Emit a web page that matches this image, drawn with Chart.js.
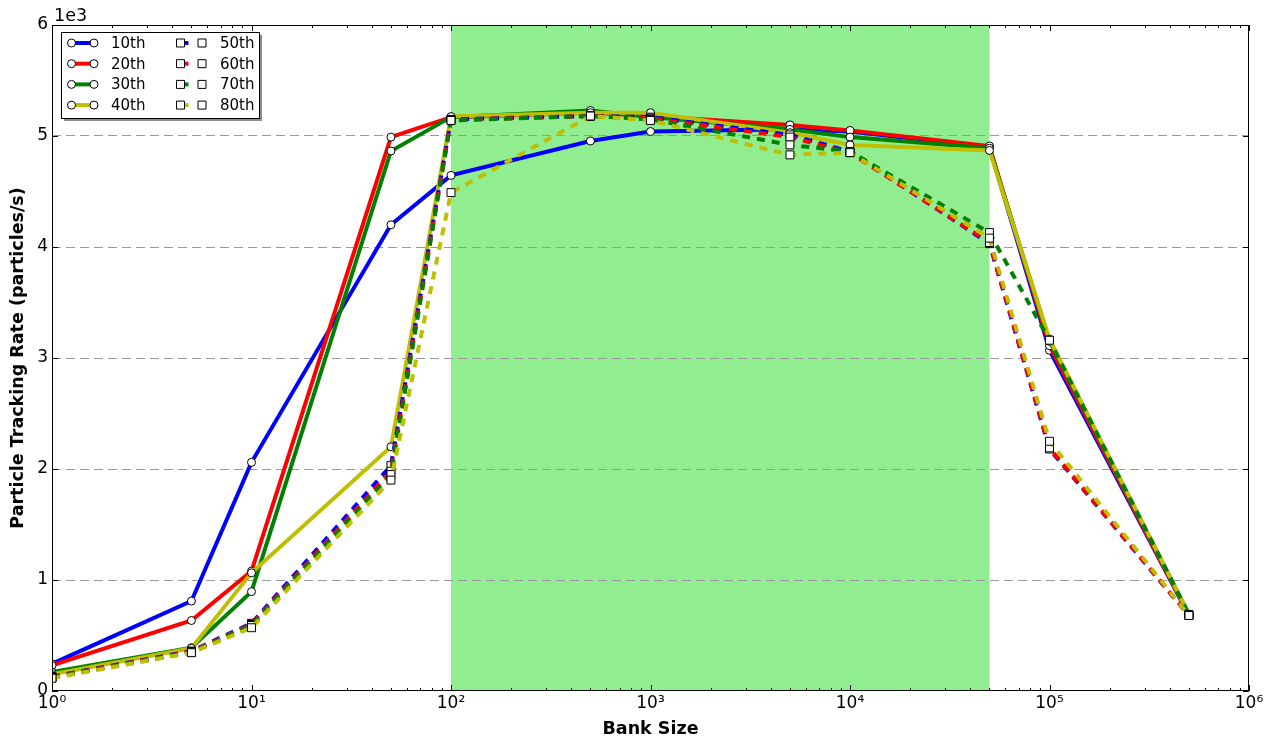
<!DOCTYPE html>
<html lang="en">
<head>
<meta charset="UTF-8">
<title>Particle Tracking Rate</title>
<script src="https://cdn.jsdelivr.net/npm/chart.js"></script>
<style>
  html, body { margin: 0; padding: 0; background: #fff; }
  #wrap { width: 1273px; height: 740px; }
</style>
</head>
<body>
<div id="wrap"><canvas id="grafico"></canvas></div>

<script>
// bank sizes (x)
const bankSizes = [1, 5, 10, 50, 100, 500, 1000, 5000, 10000, 50000, 100000, 500000];

// tracking rate per percentile (particles/s)
const p10 = [245, 810, 2060, 4200, 4645, 4955, 5040, 5060, 5040, 4900, 3070, 680];
const p20 = [230, 635, 1080, 4990, 5170, 5210, 5180, 5100, 5050, 4910, 3110, 680];
const p30 = [170, 390, 895, 4865, 5170, 5230, 5170, 5060, 4990, 4890, 3150, 690];
const p40 = [150, 385, 1065, 2200, 5175, 5210, 5210, 5030, 4920, 4870, 3170, 690];
const p50 = [130, 360, 610, 2030, 5150, 5180, 5170, 5010, 4860, 4030, 2180, 680];
const p60 = [125, 355, 600, 1980, 5145, 5180, 5160, 4990, 4850, 4040, 2190, 680];
const p70 = [120, 350, 590, 1950, 5140, 5180, 5150, 4920, 4860, 4130, 3160, 690];
const p80 = [115, 345, 570, 1900, 4490, 5180, 5140, 4830, 4850, 4080, 2250, 680];

const nomes = ['10th', '20th', '30th', '40th', '50th', '60th', '70th', '80th'];
const series = [p10, p20, p30, p40, p50, p60, p70, p80];
const cores = ['#0000ff', '#ff0000', '#008000', '#bfbf00'];

// shaded band
const faixa = [100, 50000];

const yTicks = [0, 1000, 2000, 3000, 4000, 5000, 6000];
const sup = ['\u2070', '\u00b9', '\u00b2', '\u00b3', '\u2074', '\u2075', '\u2076'];

const DASH = [8, 7];
const FONTE = 'DejaVu Sans';

Chart.defaults.font.family = FONTE;
Chart.defaults.color = '#000';

const datasets = series.map((valores, i) => {
  const tracejado = i >= 4;
  return {
    label: nomes[i],
    data: bankSizes.map((b, k) => ({ x: b, y: valores[k] })),
    borderColor: cores[i % 4],
    borderWidth: 4,
    borderDash: tracejado ? DASH : [],
    pointStyle: tracejado ? 'rect' : 'circle',
    pointRadius: tracejado ? 5.6 : 4,
    pointBackgroundColor: '#fff',
    pointBorderColor: '#000',
    pointBorderWidth: 1,
    tension: 0,
    fill: false,
    order: 7 - i
  };
});

// green band behind everything
const pluginFaixa = {
  id: 'faixa',
  beforeDraw(chart) {
    const { ctx, chartArea: a, scales: { x } } = chart;
    const x0 = x.getPixelForValue(faixa[0]);
    const x1 = x.getPixelForValue(faixa[1]);
    ctx.save();
    ctx.fillStyle = '#90ee90';
    ctx.fillRect(x0, a.top, x1 - x0, a.bottom - a.top);
    ctx.restore();
  }
};

// frame, inward ticks, offset text and legend
const pluginMoldura = {
  id: 'moldura',
  afterDraw(chart) {
    const { ctx, chartArea: a, scales: { x, y } } = chart;
    ctx.save();
    ctx.strokeStyle = '#000';
    ctx.lineWidth = 1;
    ctx.strokeRect(a.left + 0.5, a.top + 0.5, a.right - a.left - 1, a.bottom - a.top - 1);

    ctx.beginPath();
    for (let d = 0; d <= 6; d++) {
      const px = Math.round(x.getPixelForValue(Math.pow(10, d))) + 0.5;
      ctx.moveTo(px, a.bottom); ctx.lineTo(px, a.bottom - 6);
      ctx.moveTo(px, a.top); ctx.lineTo(px, a.top + 6);
      if (d < 6) {
        for (let m = 2; m <= 9; m++) {
          const pm = Math.round(x.getPixelForValue(m * Math.pow(10, d))) + 0.5;
          ctx.moveTo(pm, a.bottom); ctx.lineTo(pm, a.bottom - 3);
          ctx.moveTo(pm, a.top); ctx.lineTo(pm, a.top + 3);
        }
      }
    }
    yTicks.forEach(v => {
      const py = Math.round(y.getPixelForValue(v)) + 0.5;
      ctx.moveTo(a.left, py); ctx.lineTo(a.left + 6, py);
      ctx.moveTo(a.right, py); ctx.lineTo(a.right - 6, py);
    });
    ctx.stroke();

    ctx.fillStyle = '#000';
    ctx.font = `17.5px "${FONTE}"`;
    ctx.textAlign = 'left';
    ctx.textBaseline = 'alphabetic';
    ctx.fillText('1e3', a.left + 2, a.top - 4);

    desenharLegenda(ctx, a.left + 9, a.top + 7);
    ctx.restore();
  }
};

function desenharLegenda(ctx, lx, ly) {
  const w = 198, h = 86;
  ctx.fillStyle = 'rgba(0,0,0,0.45)';
  ctx.fillRect(lx + 3, ly + 3, w, h);
  ctx.fillStyle = '#fff';
  ctx.fillRect(lx, ly, w, h);
  ctx.strokeStyle = '#000';
  ctx.lineWidth = 1;
  ctx.strokeRect(lx + 0.5, ly + 0.5, w, h);

  ctx.font = `15px "${FONTE}"`;
  ctx.textBaseline = 'middle';
  ctx.textAlign = 'left';
  for (let i = 0; i < 8; i++) {
    const col = i < 4 ? 0 : 1;
    const row = i % 4;
    const cy = ly + 11 + row * 20.7;
    const xa = lx + (col === 0 ? 10.5 : 119.5);
    const xb = lx + (col === 0 ? 33 : 141);
    ctx.save();
    ctx.strokeStyle = cores[i % 4];
    ctx.lineWidth = 4;
    ctx.beginPath();
    // dashed entries only show the first dash between the squares
    ctx.moveTo(xa, cy); ctx.lineTo(col === 1 ? xa + 8 : xb, cy);
    ctx.stroke();
    ctx.fillStyle = '#fff';
    ctx.strokeStyle = '#000';
    ctx.lineWidth = 1;
    [xa, xb].forEach(px => {
      ctx.beginPath();
      if (col === 0) ctx.arc(px, cy, 4, 0, Math.PI * 2);
      else ctx.rect(px - 4, cy - 4, 8, 8);
      ctx.fill();
      ctx.stroke();
    });
    ctx.restore();
    ctx.fillStyle = '#000';
    ctx.fillText(nomes[i], lx + (col === 0 ? 50 : 159), cy + 1);
  }
}

new Chart(document.getElementById('grafico'), {
  type: 'line',
  data: { datasets: datasets },
  options: {
    responsive: true,
    maintainAspectRatio: false,
    animation: false,
    layout: { padding: { top: 25, right: 24, left: 0, bottom: 0 } },
    plugins: {
      legend: { display: false },
      tooltip: { enabled: false }
    },
    scales: {
      x: {
        type: 'logarithmic',
        min: 1,
        max: 1000000,
        afterFit: s => { s.height = 49; },
        grid: { display: false, drawTicks: false },
        border: { display: false },
        ticks: {
          autoSkip: false,
          maxRotation: 0,
          padding: 2,
          font: { size: 17 },
          callback: v => {
            const e = Math.log10(v);
            return Math.abs(e - Math.round(e)) < 1e-9 ? '10' + sup[Math.round(e)] : '';
          }
        },
        title: {
          display: true,
          text: 'Bank Size',
          font: { size: 17.5, weight: 'bold' },
          padding: { top: 0, bottom: 0 }
        }
      },
      y: {
        min: 0,
        max: 6000,
        afterFit: s => { s.width = 52; },
        afterBuildTicks: s => { s.ticks = yTicks.map(v => ({ value: v })); },
        grid: {
          drawTicks: false,
          lineWidth: 1,
          color: c => (c.tick && (c.tick.value === 0 || c.tick.value === 6000)) ? 'rgba(0,0,0,0)' : '#999999'
        },
        border: { display: false, dash: [9, 5] },
        ticks: {
          padding: 4,
          font: { size: 17 },
          callback: v => String(v / 1000)
        },
        title: {
          display: true,
          text: 'Particle Tracking Rate (particles/s)',
          font: { size: 17.5, weight: 'bold' },
          padding: { top: 8, bottom: 0 }
        }
      }
    }
  },
  plugins: [pluginFaixa, pluginMoldura]
});
</script>
</body>
</html>
